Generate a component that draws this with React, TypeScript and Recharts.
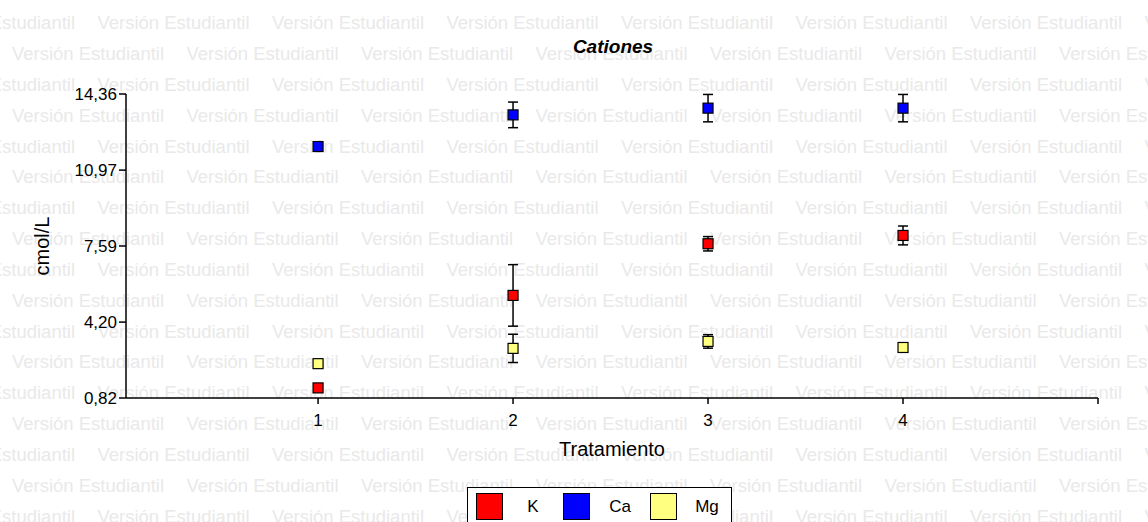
import { ScatterChart, Scatter, XAxis, YAxis, ErrorBar, Label } from "recharts";

const tratamientos = [1, 2, 3, 4];

const kMedia = [1.27, 5.39, 7.69, 8.06];
const kError = [0, 1.37, 0.32, 0.42];

const caMedia = [12.02, 13.43, 13.73, 13.73];
const caError = [0, 0.57, 0.61, 0.61];

const mgMedia = [2.35, 3.03, 3.34, 3.07];
const mgError = [0, 0.63, 0.3, 0.08];

const yTicks = [0.82, 4.2, 7.59, 10.97, 14.36];
const xTicks = [1, 2, 3, 4, 5];

const series = [
  { name: "K", color: "#FF0000", media: kMedia, error: kError },
  { name: "Ca", color: "#0000FF", media: caMedia, error: caError },
  { name: "Mg", color: "#FFFF80", media: mgMedia, error: mgError },
];

const watermark = "Versión Estudiantil";
const FONT = "'Liberation Sans', Arial, sans-serif";

function Watermark() {
  const rows = Array.from({ length: 17 }, (_, r) => r);
  const cols = Array.from({ length: 8 }, (_, c) => c);
  return (
    <svg width={1148} height={522} style={{ position: "absolute", left: 0, top: 0 }}>
      {rows.map((r) =>
        cols.map((c) => (
          <text
            key={`${r}-${c}`}
            x={(r % 2 === 0 ? -77 : 12) + c * 174.5}
            y={23.3 + r * 30.83}
            dominantBaseline="central"
            fontFamily={FONT}
            fontSize={18}
            fill="#e9e9e9"
            textLength={152}
            lengthAdjust="spacingAndGlyphs"
          >
            {watermark}
          </text>
        ))
      )}
    </svg>
  );
}

function makeSquare(color: string) {
  return (props: { cx?: number; cy?: number }) => {
    const { cx = 0, cy = 0 } = props;
    return <rect x={cx - 5} y={cy - 5} width={10} height={10} fill={color} stroke="#000" strokeWidth={1.2} />;
  };
}

const fmt = (v: number) => v.toFixed(2).replace(".", ",");

export default function App() {
  return (
    <div
      style={{
        position: "fixed",
        left: 0,
        top: 0,
        width: 1148,
        height: 522,
        overflow: "hidden",
        background: "#fff",
        fontFamily: FONT,
      }}
    >
      <Watermark />

      <div
        style={{
          position: "absolute",
          left: 0,
          top: 36,
          width: 1226,
          textAlign: "center",
          fontSize: 19,
          fontWeight: 700,
          fontStyle: "italic",
          lineHeight: "22px",
          color: "#000",
        }}
      >
        Cationes
      </div>

      <div style={{ position: "absolute", left: 0, top: 0 }}>
        <ScatterChart width={1148} height={522} margin={{ top: 94, right: 50, bottom: 94, left: 0 }}>
          <XAxis
            type="number"
            dataKey="x"
            domain={[0.015, 5]}
            ticks={xTicks}
            allowDataOverflow
            height={30}
            tickSize={6}
            tickMargin={10}
            tickFormatter={(v: number) => (v === 5 ? "" : String(v))}
            tick={{ fontSize: 17, fill: "#000", fontFamily: FONT }}
            axisLine={{ stroke: "#000", strokeWidth: 1.5 }}
            tickLine={{ stroke: "#000", strokeWidth: 1.5 }}
          >
            <Label
              value="Tratamiento"
              position="bottom"
              offset={14}
              style={{ fontSize: 20, fill: "#000", fontFamily: FONT }}
            />
          </XAxis>
          <YAxis
            type="number"
            dataKey="y"
            domain={[0.82, 14.36]}
            ticks={yTicks}
            allowDataOverflow
            width={126}
            tickSize={7}
            tickMargin={2}
            tickFormatter={fmt}
            tick={{ fontSize: 17, fill: "#000", fontFamily: FONT }}
            axisLine={{ stroke: "#000", strokeWidth: 1.5 }}
            tickLine={{ stroke: "#000", strokeWidth: 1.5 }}
          >
            <Label
              content={(p: { viewBox?: { x?: number; y?: number; height?: number } }) => {
                const vb = p.viewBox ?? {};
                const cy = (vb.y ?? 0) + (vb.height ?? 0) / 2;
                return (
                  <text
                    x={42}
                    y={cy}
                    transform={`rotate(-90, 42, ${cy})`}
                    textAnchor="middle"
                    dominantBaseline="central"
                    fontSize={20}
                    fontFamily={FONT}
                    fill="#000"
                  >
                    cmol/L
                  </text>
                );
              }}
            />
          </YAxis>
          {series.map((s) => (
            <Scatter
              key={s.name}
              name={s.name}
              data={tratamientos.map((t, i) => ({ x: t, y: s.media[i], err: s.error[i] }))}
              fill={s.color}
              shape={makeSquare(s.color)}
              isAnimationActive={false}
            >
              <ErrorBar dataKey="err" direction="y" width={5} stroke="#000" strokeWidth={1.5} />
            </Scatter>
          ))}
        </ScatterChart>
      </div>

      <div
        style={{
          position: "absolute",
          left: 467,
          top: 487,
          width: 265,
          height: 44,
          border: "1px solid #000",
          background: "#fff",
          boxSizing: "border-box",
        }}
      >
        {series.map((s, i) => (
          <div key={s.name} style={{ position: "absolute", left: 8 + i * 87, top: 5, display: "flex", alignItems: "center" }}>
            <div style={{ width: 27, height: 27, background: s.color, border: "1px solid #000", boxSizing: "border-box" }} />
            <span style={{ width: 60, textAlign: "center", fontSize: 17, color: "#000" }}>{s.name}</span>
          </div>
        ))}
      </div>
    </div>
  );
}
